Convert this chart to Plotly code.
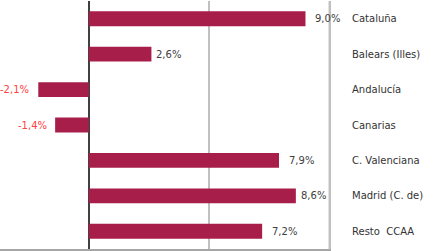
import plotly.graph_objects as go

categories = ["Cataluña", "Balears (Illes)", "Andalucía", "Canarias",
              "C. Valenciana", "Madrid (C. de)", "Resto  CCAA"]
values = [9.0, 2.6, -2.1, -1.4, 7.9, 8.6, 7.2]
value_labels = ["9,0%", "2,6%", "-2,1%", "-1,4%", "7,9%", "8,6%", "7,2%"]
label_gaps = [8, 3, 7, 6, 8, 3, 8]
x_max = 10

BAR = "#a81e4b"
POS_TXT = "#404040"
NEG_TXT = "#ff4040"
GRID = "#c0c0c0"
FONT = "DejaVu Sans"

fig = go.Figure(go.Bar(
    x=values, y=categories, orientation="h",
    marker=dict(color=BAR, line=dict(width=0)),
    width=0.42, hoverinfo="skip",
))

for v, c, t, g in zip(values, categories, value_labels, label_gaps):
    fig.add_annotation(
        x=v, y=c, text=t, showarrow=False,
        xanchor="left" if v >= 0 else "right",
        xshift=g if v >= 0 else -g,
        font=dict(family=FONT, size=10, color=POS_TXT if v >= 0 else NEG_TXT),
    )

# right-hand gridline at the axis maximum (plotly culls gridlines on the edge)
fig.add_shape(type="line", xref="x", yref="paper", x0=x_max, x1=x_max,
              y0=0, y1=1, line=dict(color=GRID, width=2), layer="below")

fig.update_layout(
    width=440, height=251,
    margin=dict(l=0, r=109, t=1, b=2),
    paper_bgcolor="white", plot_bgcolor="white",
    showlegend=False,
    font=dict(family=FONT, size=10, color="#333333"),
    xaxis=dict(
        range=[-3.69, x_max + 0.06], dtick=5, tick0=0,
        showgrid=True, gridcolor=GRID, gridwidth=2,
        zeroline=True, zerolinecolor="#404040", zerolinewidth=1.5,
        showline=True, linecolor="#a6a6a6", linewidth=2,
        showticklabels=False, ticks="",
        fixedrange=True,
    ),
    yaxis=dict(
        side="right", autorange="reversed",
        showgrid=False, zeroline=False, showline=False,
        ticks="outside", ticklen=0, ticklabelstandoff=18,
        tickfont=dict(family=FONT, size=10, color="#333333"),
        fixedrange=True,
    ),
)

fig.write_html("out.html")
